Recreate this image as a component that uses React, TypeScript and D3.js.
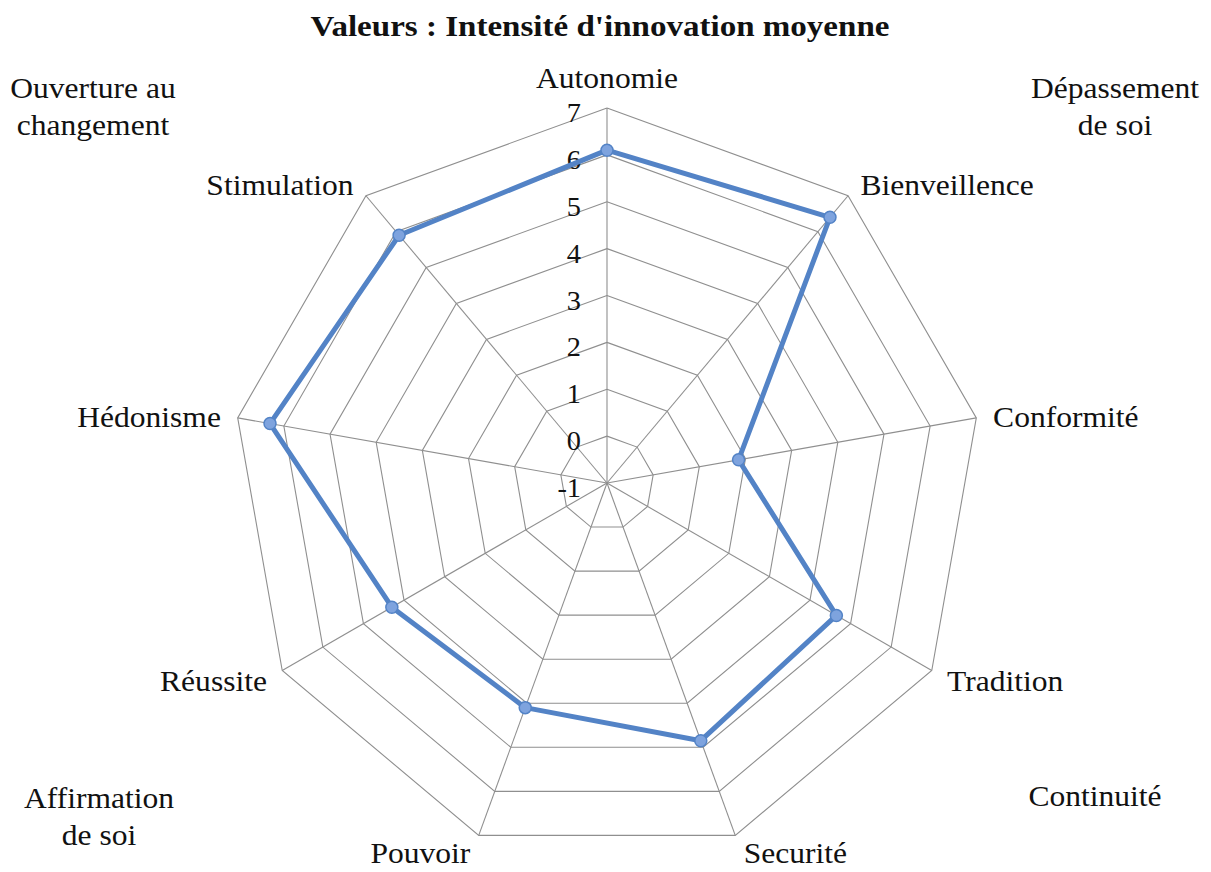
import React from "react";
import * as d3 from "d3";

// categories, clockwise from the top
const categories = [
  "Autonomie",
  "Bienveillence",
  "Conformité",
  "Tradition",
  "Securité",
  "Pouvoir",
  "Réussite",
  "Hédonisme",
  "Stimulation",
];

// mean innovation intensity
const values = [6.1, 6.4, 1.85, 4.65, 4.85, 4.1, 4.3, 6.3, 5.9];

// radial axis ticks
const ticks = [-1, 0, 1, 2, 3, 4, 5, 6, 7];

// value-group captions in the corners
const groups = [
  { lines: ["Ouverture au", "changement"], x: 93, y: 98 },
  { lines: ["Dépassement", "de soi"], x: 1115, y: 98 },
  { lines: ["Continuité"], x: 1095, y: 806 },
  { lines: ["Affirmation", "de soi"], x: 99, y: 808 },
];

const width = 1211;
const height = 872;
const cx = 607;
const cy = 483;
const outer = 375;
const font = "'Liberation Serif', 'Times New Roman', serif";
const stretch = 1.07;

// text drawn a little wider than the font, like the source image
function Label({ x, y, anchor, children, size = 29.5, bold = false, sx = stretch }: any) {
  return (
    <text
      transform={`translate(${x},${y}) scale(${sx},1)`}
      textAnchor={anchor}
      fontSize={size}
      fontWeight={bold ? "bold" : "normal"}
      fill="#111"
    >
      {children}
    </text>
  );
}

export default function App() {
  const r = d3.scaleLinear().domain([-1, 7]).range([0, outer]);
  const step = (2 * Math.PI) / categories.length;
  const a = (c: string) => categories.indexOf(c) * step;

  const pt = (c: string, v: number): [number, number] => [
    cx + r(v) * Math.sin(a(c)),
    cy - r(v) * Math.cos(a(c)),
  ];

  const ring = (v: number) =>
    d3.line()(categories.map((c) => pt(c, v)).concat([pt(categories[0], v)])) || "";

  const series =
    d3.line()(categories.map((c, i) => pt(c, values[i])).concat([pt(categories[0], values[0])])) || "";

  return (
    <svg
      width={width}
      height={height}
      style={{ position: "absolute", left: 0, top: 0, background: "#fff" }}
      fontFamily={font}
    >
      <Label x={600} y={36} anchor="middle" size={29} bold sx={1.14}>
        Valeurs : Intensité d'innovation moyenne
      </Label>

      {/* grid rings */}
      {ticks.slice(1).map((t) => (
        <path key={t} d={ring(t)} fill="none" stroke="#8f8f8f" strokeWidth={1.1} />
      ))}
      {/* spokes */}
      {categories.map((c) => {
        const [x, y] = pt(c, 7);
        return <line key={c} x1={cx} y1={cy} x2={x} y2={y} stroke="#8f8f8f" strokeWidth={1.1} />;
      })}

      {/* tick labels */}
      {ticks.map((t) => (
        <Label key={t} x={cx - 26} y={cy - r(t) + 14} anchor="end" size={27} sx={1.05}>
          {t}
        </Label>
      ))}

      {/* category labels */}
      {categories.map((c) => {
        const [vx, vy] = pt(c, 7);
        const s = Math.sin(a(c));
        const co = Math.cos(a(c));
        if (Math.abs(s) < 0.1) {
          return (
            <Label key={c} x={vx} y={vy - 20} anchor="middle">
              {c}
            </Label>
          );
        }
        const sign = s > 0 ? 1 : -1;
        return (
          <Label
            key={c}
            x={vx + sign * (4 + 13 * Math.abs(s))}
            y={vy + 12 - 17 * co}
            anchor={s > 0 ? "start" : "end"}
          >
            {c}
          </Label>
        );
      })}

      {/* series */}
      <path d={series} fill="none" stroke="#5383c6" strokeWidth={5} strokeLinejoin="round" />
      {categories.map((c, i) => {
        const [x, y] = pt(c, values[i]);
        return (
          <circle key={c} cx={x} cy={y} r={6} fill="#7ea3de" stroke="#5383c6" strokeWidth={1.5} />
        );
      })}

      {/* group captions */}
      {groups.map((g) => (
        <Label key={g.lines[0]} x={g.x} y={g.y} anchor="middle">
          {g.lines.map((l, i) => (
            <tspan key={l} x={0} dy={i === 0 ? 0 : 37}>
              {l}
            </tspan>
          ))}
        </Label>
      ))}
    </svg>
  );
}
